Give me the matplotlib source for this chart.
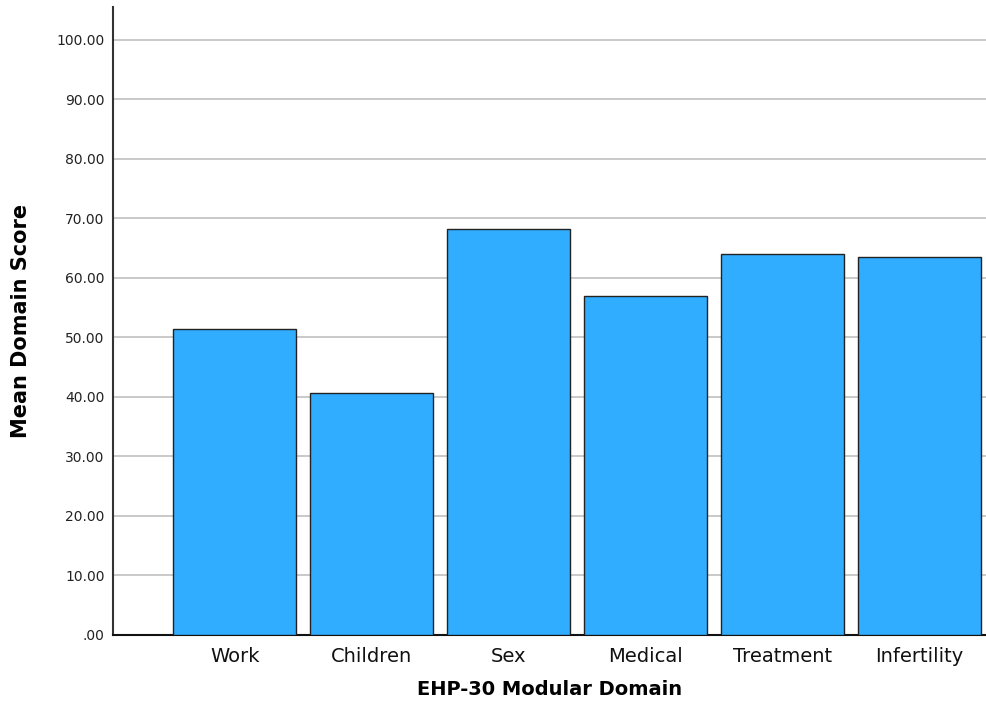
import matplotlib.pyplot as plt

domains = ['Work', 'Children', 'Sex', 'Medical', 'Treatment', 'Infertility']
scores = [51.4, 40.7, 68.2, 56.9, 64.0, 63.5]
yticks = [0, 10, 20, 30, 40, 50, 60, 70, 80, 90, 100]
ytick_labels = ['.00', '10.00', '20.00', '30.00', '40.00', '50.00',
                '60.00', '70.00', '80.00', '90.00', '100.00']

fig = plt.figure(figsize=(9.86, 7.06), dpi=100)
ax = fig.add_axes([0.1146, 0.1006, 0.8854, 0.8894])

ax.bar(range(len(domains)), scores, width=0.9, color='#31adff',
       edgecolor='#222222', linewidth=1.0, zorder=3)

ax.set_xlim(-0.89, 5.485)
ax.set_ylim(0, 105.5)
ax.set_yticks(yticks)
ax.set_yticklabels(ytick_labels, fontsize=10, color='#222222')
ax.set_xticks(range(len(domains)))
ax.set_xticklabels(domains, fontsize=14, color='#111111')
ax.tick_params(axis='both', length=0, pad=6)
ax.tick_params(axis='x', pad=9)

ax.yaxis.grid(True, color='#c0c0c0', linewidth=1.2, zorder=0)
ax.set_axisbelow(True)

for side in ['top', 'right']:
    ax.spines[side].set_visible(False)
ax.spines['left'].set_color('#333333')
ax.spines['bottom'].set_color('#111111')
ax.spines['left'].set_linewidth(1.5)
ax.spines['bottom'].set_linewidth(1.5)

ax.set_xlabel('EHP-30 Modular Domain', fontsize=14, fontweight='bold', labelpad=10)
ax.set_ylabel('Mean Domain Score', fontsize=15, fontweight='bold', labelpad=18)

fig.savefig('out.png', dpi=100)
